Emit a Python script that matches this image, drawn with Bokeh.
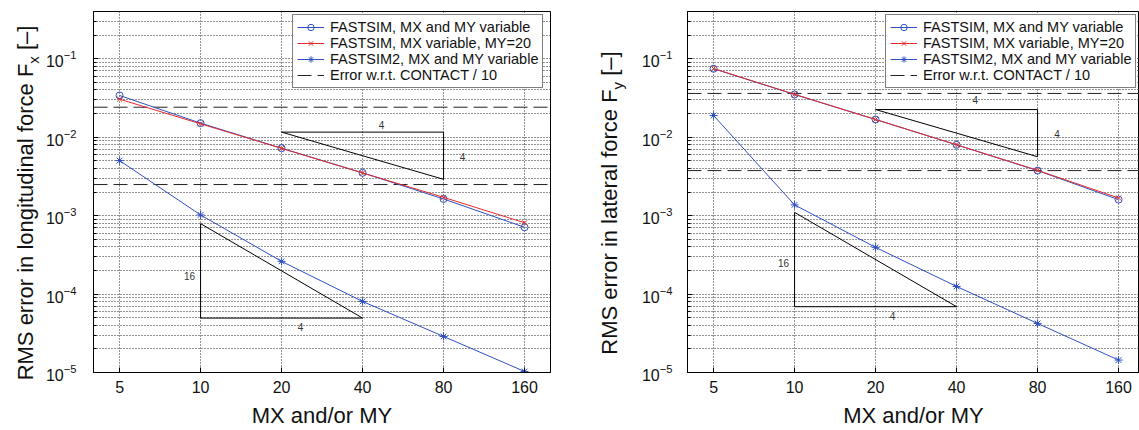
import math
from bokeh.plotting import figure
from bokeh.layouts import row
from bokeh.models import (FixedTicker, PrintfTickFormatter, LogTickFormatter,
                          Legend, LegendItem, Range1d)
from bokeh.embed import file_html
from bokeh.resources import INLINE
from bokeh.core.properties import value

# ---------------- data ----------------
mx = [5, 10, 20, 40, 80, 160]

# longitudinal force Fx
fx_fastsim = [0.0340, 0.0151, 0.00723, 0.00351, 0.00163, 0.00071]
fx_fastsim_my20 = [0.0305, 0.0148, 0.0072, 0.0035, 0.00171, 0.00081]
fx_fastsim2 = [0.00503, 0.00102, 0.000261, 8.05e-5, 2.88e-5, 1.03e-5]
fx_contact_err = [0.0241, 0.00249]

# lateral force Fy
fy_fastsim = [0.0745, 0.0350, 0.0168, 0.00798, 0.00375, 0.00160]
fy_fastsim_my20 = [0.0750, 0.0352, 0.0168, 0.00800, 0.00378, 0.00168]
fy_fastsim2 = [0.0189, 0.00137, 0.000394, 0.000125, 4.22e-5, 1.44e-5]
fy_contact_err = [0.0361, 0.00375]

# slope triangles (x, y corners) and their annotations
fx_tri_a_x = [20, 80, 80, 20]
fx_tri_a_y = [0.0116, 0.0116, 0.0029, 0.0116]
fx_tri_b_x = [10, 10, 40, 10]
fx_tri_b_y = [7.9e-4, 4.94e-5, 4.94e-5, 7.9e-4]
fx_tri_text = ["4", "4", "16", "4"]
fx_tri_text_x = [47, 94, 9.1, 23.5]
fx_tri_text_y = [0.0145, 0.00555, 1.71e-4, 3.75e-5]

fy_tri_a_x = [20, 80, 80, 20]
fy_tri_a_y = [0.0225, 0.0225, 0.00563, 0.0225]
fy_tri_b_x = [10, 10, 40, 10]
fy_tri_b_y = [1.1e-3, 6.9e-5, 6.9e-5, 1.1e-3]
fy_tri_text = ["4", "4", "16", "4"]
fy_tri_text_x = [46.9, 94.4, 9.1, 23.1]
fy_tri_text_y = [0.030, 0.0110, 2.46e-4, 5.19e-5]

x_ticks = [5, 10, 20, 40, 80, 160]
y_ticks = [1e-5, 1e-4, 1e-3, 1e-2, 1e-1]
y_minor = [m * d for d in y_ticks for m in range(2, 10) if m * d <= 0.4]

legend_labels = ["FASTSIM, MX and MY variable",
                 "FASTSIM, MX variable, MY=20",
                 "FASTSIM2, MX and MY variable",
                 "Error w.r.t. CONTACT / 10"]
x_label = "MX and/or MY"
fx_ylabel = ("RMS error in longitudinal force F", "x", "[\u2013]")
fy_ylabel = ("RMS error in lateral force F", "y", "[\u2013]")

# ---------------- style ----------------
FONT = "Liberation Sans"
BLUE = "#2f4fc2"
RED = "#e62a2a"
GRID = "#262626"
FRAME_H = 361
TOP_B, BOT_B = 11, 58
TOTAL_H = TOP_B + FRAME_H + BOT_B
PX_PER_OCT = 81.0
X_LO = 4
MID_SHIFT = 0.3465  # baseline offset from text-box middle, in em

# Helvetica/Arial advance widths (per 1000 em) for label layout
_W = {" ": 278, "R": 722, "M": 833, "S": 667, "e": 556, "r": 333, "o": 556, "i": 222,
      "n": 556, "l": 222, "g": 556, "t": 278, "u": 556, "d": 556, "a": 556, "f": 278,
      "c": 500, "F": 611, "x": 500, "y": 500, "[": 278, "]": 278, "\u2013": 556}


def text_w(s, size):
    return sum(_W.get(ch, 556) for ch in s) * size / 1000.0


def ylabel_strip(width, baseline_x, ylab):
    s = figure(frame_width=width, frame_height=TOTAL_H,
               x_range=Range1d(0, width), y_range=Range1d(0, TOTAL_H),
               x_axis_location=None, y_axis_location=None, min_border=0,
               toolbar_location=None, output_backend="svg",
               background_fill_color="white", border_fill_color="white")
    s.outline_line_color = None
    s.xgrid.visible = False
    s.ygrid.visible = False
    main, sub, tail = ylab
    wm, ws, wsp, wt = text_w(main, 22), text_w(sub, 15), text_w(" ", 22), text_w(tail, 22)
    y0 = BOT_B + FRAME_H / 2 - (wm + ws + wsp + wt) / 2
    s.text(x=[baseline_x - MID_SHIFT * 22, baseline_x + 5.5 - MID_SHIFT * 15,
              baseline_x - MID_SHIFT * 22],
           y=[y0, y0 + wm, y0 + wm + ws + wsp],
           text=[main, sub, tail],
           text_font_size=["22px", "15px", "22px"],
           angle=math.pi / 2, text_font=value(FONT), text_color="#111111",
           text_align="left", text_baseline="middle")
    return s


def panel(frame_w, border_left, border_right, s1, s2, s3, err,
          tri_a, tri_b, tri_txt, tick_standoff, legend_vx):
    x_hi = X_LO * 2 ** (frame_w / PX_PER_OCT)
    p = figure(frame_width=frame_w, frame_height=FRAME_H,
               x_axis_type="log", y_axis_type="log",
               x_range=Range1d(X_LO, x_hi), y_range=Range1d(1e-5, 0.4),
               output_backend="svg", toolbar_location=None,
               min_border_left=border_left, min_border_right=border_right,
               min_border_top=TOP_B, min_border_bottom=BOT_B,
               background_fill_color="white", border_fill_color="white")
    p.outline_line_color = "black"
    p.outline_line_width = 1

    xa = p.xaxis[0]
    xa.ticker = FixedTicker(ticks=x_ticks, minor_ticks=[])
    xa.formatter = PrintfTickFormatter(format="%d")
    xa.axis_label = x_label
    xa.axis_label_text_font = FONT
    xa.axis_label_text_font_size = "22px"
    xa.axis_label_text_font_style = "normal"
    xa.axis_label_text_color = "#111111"
    xa.axis_label_standoff = 7
    ya = p.yaxis[0]
    ya.ticker = FixedTicker(ticks=y_ticks, minor_ticks=y_minor)
    ya.formatter = LogTickFormatter()
    for ax in (xa, ya):
        ax.axis_line_color = "black"
        ax.axis_line_width = 1
        ax.major_tick_in = 5
        ax.major_tick_out = 0
        ax.minor_tick_in = 3
        ax.minor_tick_out = 0
        ax.major_tick_line_color = "black"
        ax.minor_tick_line_color = "black"
        ax.major_label_text_font = FONT
        ax.major_label_text_font_size = "16px"
        ax.major_label_text_color = "#111111"
    xa.major_label_standoff = 8
    ya.major_label_standoff = tick_standoff

    for g in (p.xgrid, p.ygrid):
        g.grid_line_color = GRID
        g.grid_line_dash = "1 2"
        g.grid_line_width = 1
    p.ygrid.minor_grid_line_color = GRID
    p.ygrid.minor_grid_line_dash = "1 2"
    p.ygrid.minor_grid_line_width = 1

    # reference error levels (dashed)
    r_err = p.multi_line(xs=[[X_LO, x_hi], [X_LO, x_hi]],
                         ys=[[err[0], err[0]], [err[1], err[1]]],
                         line_color="#222222", line_dash="14 6", line_width=1)

    # slope triangles
    for tx, ty in (tri_a, tri_b):
        p.line(tx, ty, line_color="black", line_width=1)
    p.text(x=tri_txt[1], y=tri_txt[2], text=tri_txt[0],
           text_font=value(FONT), text_font_size="10px", text_color="#333333",
           text_align="center", text_baseline="middle")

    r1l = p.line(mx, s1, line_color=BLUE, line_width=1)
    r1m = p.scatter(mx, s1, marker="circle", size=7, line_color=BLUE,
                    fill_color=None, line_width=1)
    r2l = p.line(mx, s2, line_color=RED, line_width=1)
    r2m = p.scatter(mx, s2, marker="x", size=7, line_color=RED, line_width=1)
    r3l = p.line(mx, s3, line_color=BLUE, line_width=1)
    r3m = p.scatter(mx, s3, marker="asterisk", size=8, line_color=BLUE, line_width=1)

    legend = Legend(items=[LegendItem(label=legend_labels[0], renderers=[r1l, r1m]),
                           LegendItem(label=legend_labels[1], renderers=[r2l, r2m]),
                           LegendItem(label=legend_labels[2], renderers=[r3l, r3m]),
                           LegendItem(label=legend_labels[3], renderers=[r_err])],
                    location=(legend_vx, 284),
                    border_line_color="black", border_line_width=1,
                    background_fill_color="white", background_fill_alpha=1.0,
                    label_text_font=FONT, label_text_font_size="14.5px",
                    label_text_color="#111111",
                    glyph_width=27, glyph_height=16, label_height=16,
                    label_standoff=6, padding=4, spacing=0)
    p.add_layout(legend)
    return p


s1 = ylabel_strip(41, 32.3, fx_ylabel)
p1 = panel(457, 52, 10, fx_fastsim, fx_fastsim_my20, fx_fastsim2, fx_contact_err,
           (fx_tri_a_x, fx_tri_a_y), (fx_tri_b_x, fx_tri_b_y),
           (fx_tri_text, fx_tri_text_x, fx_tri_text_y), 17, 199)
s2 = ylabel_strip(75, 56.7, fy_ylabel)
p2 = panel(452, 52, 0, fy_fastsim, fy_fastsim_my20, fy_fastsim2, fy_contact_err,
           (fy_tri_a_x, fy_tri_a_y), (fy_tri_b_x, fy_tri_b_y),
           (fy_tri_text, fy_tri_text_x, fy_tri_text_y), 15, 198)

layout = row(s1, p1, s2, p2)
open("out.html", "w").write(file_html(layout, INLINE))
